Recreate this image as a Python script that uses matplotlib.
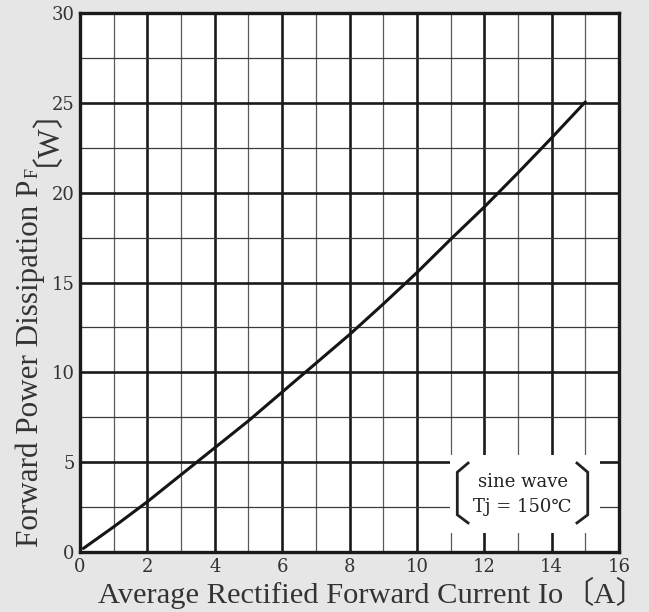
import matplotlib
matplotlib.use("Agg")
import matplotlib.pyplot as plt
from matplotlib.patches import Rectangle

# ---- data ----
io = [0.1, 1, 2, 3, 4, 5, 6, 7, 8, 9, 10, 11, 12, 13, 14, 15]
pf = [0.2, 1.4, 2.8, 4.3, 5.8, 7.3, 8.9, 10.5, 12.1, 13.8, 15.55, 17.4, 19.2, 21.1, 23.05, 25.05]
xticks = [0, 2, 4, 6, 8, 10, 12, 14, 16]
yticks = [0, 5, 10, 15, 20, 25, 30]
xlabel_parts = ["Average Rectified Forward Current Io", "〔A〕"]
ylabel_parts = ["Forward Power Dissipation P", "F", "〔W〕"]
note_lines = ["sine wave", "Tj = 150℃"]

TICKFAM = ["DejaVu Serif", "Noto Sans CJK JP"]
LABFAM = ["Liberation Serif", "Noto Sans CJK JP"]
BG = "#e6e6e6"
TXT = "#333333"
W, H = 649, 612

fig = plt.figure(figsize=(W/100, H/100), dpi=100, facecolor=BG)
ax = fig.add_axes([80/W, 60/H, 539/W, 539/H])
ax.set_facecolor("white")
ax.set_xlim(0, 16)
ax.set_ylim(0, 30)

# grid
for xv in range(1, 16):
    major = xv % 2 == 0
    ax.axvline(xv, color="#1a1a1a" if major else "#5a5a5a",
               lw=1.9 if major else 0.9, zorder=1)
for k in range(1, 12):
    yv = k * 2.5
    major = k % 2 == 0
    ax.axhline(yv, color="#1a1a1a" if major else "#3a3a3a",
               lw=1.9 if major else 0.9, zorder=1)

for s in ax.spines.values():
    s.set_linewidth(2.4)
    s.set_color("#1a1a1a")
    s.set_zorder(5)

ax.set_xticks(xticks)
ax.set_yticks(yticks)
ax.tick_params(length=0, labelsize=13, colors=TXT)
ax.tick_params(axis="x", pad=4)
ax.tick_params(axis="y", pad=4)
for lab in ax.get_xticklabels() + ax.get_yticklabels():
    lab.set_family(TICKFAM)

ax.plot(io, pf, color="#151515", lw=2.2, zorder=3, solid_capstyle="round")

# annotation box
ax.add_patch(Rectangle((0.686, 0.035), 0.279, 0.145, transform=ax.transAxes,
                       facecolor="white", edgecolor="none", zorder=2))
bl = [(0.720, 0.165), (0.700, 0.148), (0.700, 0.069), (0.720, 0.054)]
br = [(0.922, 0.165), (0.942, 0.148), (0.942, 0.069), (0.922, 0.054)]
for pts in (bl, br):
    ax.plot([p[0] for p in pts], [p[1] for p in pts], color="#222222",
            lw=2.0, transform=ax.transAxes, zorder=4, solid_joinstyle="miter")
ax.text(0.821, 0.130, note_lines[0], transform=ax.transAxes, ha="center",
        va="center", fontsize=13, family=TICKFAM, color="#222222", zorder=4)
ax.text(0.821, 0.0835, note_lines[1], transform=ax.transAxes, ha="center",
        va="center", fontsize=13, family=TICKFAM, color="#222222", zorder=4)

renderer = fig.canvas.get_renderer()


def build(parts, rels, fs, base, start, gap, vertical):
    texts = []
    pos = start
    for p, r in zip(parts, rels):
        if vertical:
            t = fig.text(base/W, pos/H, p, fontsize=fs*r, family=LABFAM,
                         color=TXT, rotation=90, rotation_mode="anchor",
                         ha="left", va="baseline")
            pos = t.get_window_extent(renderer).y1 + gap
        else:
            t = fig.text(pos/W, base/H, p, fontsize=fs*r, family=LABFAM,
                         color=TXT, ha="left", va="baseline")
            pos = t.get_window_extent(renderer).x1 + gap
        texts.append(t)
    return texts, pos - gap - start


def fitted(parts, rels, base, start, length, gap, vertical):
    texts, span = build(parts, rels, 20, base, start, gap, vertical)
    for t in texts:
        t.remove()
    build(parts, rels, 20 * length / span, base, start, gap, vertical)


# x label: baseline at y=603 (from top), spanning x 98 -> 646
fitted(xlabel_parts, [1.0, 1.0], H - 603, 98, 548, 0, vertical=False)
# y label: baseline at x=38, spanning y 547 -> 72 (from top)
fitted(ylabel_parts, [1.0, 0.58, 1.0], 38, H - 547, 475, 2, vertical=True)

fig.savefig("out.png", dpi=100, facecolor=BG)
